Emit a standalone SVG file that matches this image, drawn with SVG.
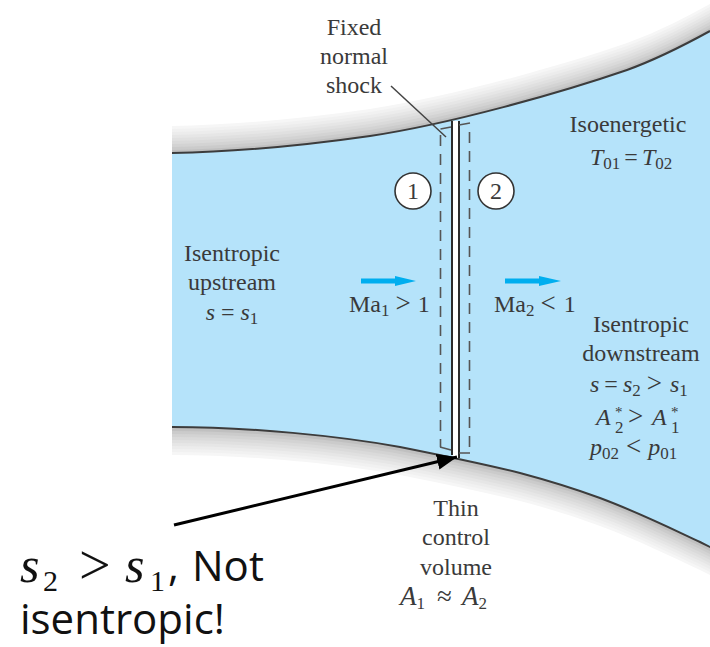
<svg xmlns="http://www.w3.org/2000/svg" width="710" height="647" viewBox="0 0 710 647">
<style>
.t{font-family:"Liberation Serif",serif;font-size:24px;fill:#3a3a3a;text-anchor:middle}
.s{text-anchor:start}
.i{font-style:italic}
.sub{font-size:17px}
.op{font-size:27px}
.sup{font-size:15px}
.big{font-size:27px}
.wall{fill:none;stroke:#3c3c3c;stroke-width:2}
.dash{fill:none;stroke:#555;stroke-width:1.6;stroke-dasharray:11 8}
.thin{fill:none;stroke:#555;stroke-width:1.6}
.c{fill:#fff;stroke:#333;stroke-width:1.6}
.cap{font-family:"Open Sans","Noto Sans",sans-serif;font-size:42px;fill:#111}
.m{font-family:"Liberation Serif",serif;font-size:50px;fill:#111}
.mo{font-size:56px}
.ms{font-size:30px}
</style>
<defs>
<clipPath id="clip"><rect x="172" y="0" width="538" height="647"/></clipPath>
<path id="top" d="M172 153C230 152 300 146 370 136C450 124 560 93 627 70C660 58 690 42 710 31"/>
<path id="bot" d="M172 427C250 427 340 436 400 447C440 455 480 463 520 473C550 481 570 487 600 498C640 513 670 528 700 542L712 548"/>
<path id="topf" d="M172 153C230 152 300 146 370 136C450 124 560 93 627 70C660 58 690 42 710 31V300H172Z"/>
<path id="botf" d="M172 427C250 427 340 436 400 447C440 455 480 463 520 473C550 481 570 487 600 498C640 513 670 528 700 542L712 548V300H172Z"/>
<marker id="ah" markerUnits="userSpaceOnUse" markerWidth="22" markerHeight="18" refX="20" refY="8" orient="auto"><path d="M0 0L20 8L0 16Z" fill="#000"/></marker>
</defs>
<g id="walls" clip-path="url(#clip)">
<g id="top-band">
<use href="#topf" fill="#f6f6f6" transform="translate(0,-27)"/>
<use href="#topf" fill="#f1f1f1" transform="translate(0,-24)"/>
<use href="#topf" fill="#ececec" transform="translate(0,-21)"/>
<use href="#topf" fill="#e6e6e6" transform="translate(0,-18)"/>
<use href="#topf" fill="#e0e0e0" transform="translate(0,-15)"/>
<use href="#topf" fill="#dadada" transform="translate(0,-12)"/>
<use href="#topf" fill="#d3d3d3" transform="translate(0,-9)"/>
<use href="#topf" fill="#cbcbcb" transform="translate(0,-6)"/>
<use href="#topf" fill="#c0c0c0" transform="translate(0,-3)"/>
</g>
<g id="bottom-band">
<use href="#botf" fill="#f6f6f6" transform="translate(0,28)"/>
<use href="#botf" fill="#f1f1f1" transform="translate(0,25)"/>
<use href="#botf" fill="#ececec" transform="translate(0,22)"/>
<use href="#botf" fill="#e6e6e6" transform="translate(0,19)"/>
<use href="#botf" fill="#e0e0e0" transform="translate(0,16)"/>
<use href="#botf" fill="#dadada" transform="translate(0,13)"/>
<use href="#botf" fill="#d3d3d3" transform="translate(0,10)"/>
<use href="#botf" fill="#cbcbcb" transform="translate(0,7)"/>
<use href="#botf" fill="#c0c0c0" transform="translate(0,4)"/>
</g>
<path id="fluid" d="M172 153C230 152 300 146 370 136C450 124 560 93 627 70C660 58 690 42 710 31L712 548L700 542C670 528 640 513 600 498C570 487 550 481 520 473C480 463 440 455 400 447C340 436 250 427 172 427Z" fill="#b5e3fa"/>
<use href="#top" class="wall"/>
<use href="#bot" class="wall"/>
</g>
<g id="shock">
<rect x="452.500" y="121" width="6.500" height="337" fill="#fff"/>
<path d="M452 121V455M459 121V458" fill="none" stroke="#2b2b2b" stroke-width="2"/>
</g>
<g id="control-volume">
<path class="dash" d="M440.500 135V447"/>
<path class="dash" d="M469.500 132V452"/>
<path class="thin" d="M440.500 129L451 127M459 125L470 123M440 447L451 450M459 453H470"/>
</g>
<g id="connectors">
<path id="leader" d="M391 86L446 137" fill="none" stroke="#444" stroke-width="1.500"/>
<path id="flow-1" d="M361 278.500H395V276L416 281L395 286V283.500H361Z" fill="#00aeef"/>
<path id="flow-2" d="M505 278.500H539V276L561 281L539 286V283.500H505Z" fill="#00aeef"/>
<path id="callout" d="M174 525L457 457" fill="none" stroke="#000" stroke-width="3" marker-end="url(#ah)"/>
</g>
<g id="station-1"><circle class="c" cx="413" cy="191" r="18"/><text class="t" x="413" y="199">1</text></g>
<g id="station-2"><circle class="c" cx="496" cy="191" r="18"/><text class="t" x="496" y="199">2</text></g>
<g id="label-shock"><text class="t" x="354" y="35">Fixed</text><text class="t" x="354" y="64">normal</text><text class="t" x="354" y="93">shock</text></g>
<g id="label-isoenergetic"><text class="t" x="628" y="132">Isoenergetic</text><text class="t s" x="590" y="165"><tspan class="i">T</tspan><tspan class="sub" dy="4">01</tspan><tspan dy="-4" dx="4">=</tspan><tspan class="i" dx="4">T</tspan><tspan class="sub" dy="4">02</tspan></text></g>
<g id="label-upstream"><text class="t" x="232" y="261">Isentropic</text><text class="t" x="232" y="290">upstream</text><text class="t" x="232" y="320"><tspan class="i">s</tspan> = <tspan class="i">s</tspan><tspan class="sub" dy="4">1</tspan></text></g>
<g id="label-ma1"><text class="t s" x="349" y="312">Ma<tspan class="sub" dy="4">1</tspan><tspan class="op" dy="-4" dx="6">&gt;</tspan><tspan dx="7">1</tspan></text></g>
<g id="label-ma2"><text class="t s" x="494" y="312">Ma<tspan class="sub" dy="4">2</tspan><tspan class="op" dy="-4" dx="6">&lt;</tspan><tspan dx="8">1</tspan></text></g>
<g id="label-downstream"><text class="t" x="641" y="332">Isentropic</text><text class="t" x="641" y="361">downstream</text>
<text class="t s" x="590" y="392"><tspan class="i">s</tspan><tspan dx="5">=</tspan><tspan class="i" dx="5">s</tspan><tspan class="sub" dy="4">2</tspan><tspan class="op" dy="-4" dx="6">&gt;</tspan><tspan class="i" dx="8">s</tspan><tspan class="sub" dy="4">1</tspan></text>
<text class="t s" x="596" y="425"><tspan class="i">A</tspan><tspan class="sup" x="615" dy="-8">*</tspan><tspan class="sub" x="615" dy="16">2</tspan><tspan class="op" x="628" dy="-8">&gt;</tspan><tspan class="i" x="652">A</tspan><tspan class="sup" x="671" dy="-8">*</tspan><tspan class="sub" x="671" dy="16">1</tspan></text>
<text class="t s" x="590" y="455"><tspan class="i">p</tspan><tspan class="sub" dy="4">02</tspan><tspan class="op" dy="-4" dx="7">&lt;</tspan><tspan class="i" dx="7">p</tspan><tspan class="sub" dy="4">01</tspan></text></g>
<g id="label-volume"><text class="t" x="456" y="516">Thin</text><text class="t" x="456" y="545">control</text><text class="t" x="456" y="575">volume</text><text class="t s" x="400" y="605"><tspan class="i big">A</tspan><tspan class="sub" dy="4">1</tspan><tspan class="op" x="437" dy="-4">≈</tspan><tspan class="i big" x="462">A</tspan><tspan class="sub" dy="4">2</tspan></text></g>
<g id="callout-text"><text class="m" x="20" y="582"><tspan class="i">s</tspan><tspan class="ms" x="43" dy="9">2</tspan><tspan class="mo" x="79" dy="-7">&gt;</tspan><tspan class="i" x="125" dy="-2">s</tspan><tspan class="ms" x="150" dy="9">1</tspan></text><text class="cap" x="168" y="581">, </text><text class="cap" x="192" y="581">Not</text><text class="cap" x="20" y="634">isentropic!</text></g>
</svg>
